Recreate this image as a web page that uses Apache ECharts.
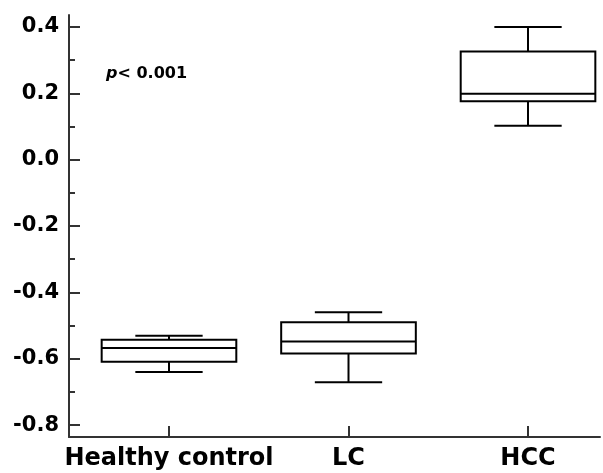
<!DOCTYPE html>
<html>
<head>
<meta charset="utf-8">
<script src="https://cdn.jsdelivr.net/npm/echarts@6/dist/echarts.min.js"></script>
<style>
  html, body { margin: 0; padding: 0; background: #fff; }
  #chart { width: 603px; height: 473px; }
</style>
</head>
<body>
<div id="chart"></div>
<script>
// groups on the x axis
const categories = ['Healthy control', 'LC', 'HCC']
const positions = [0, 1, 2]
// box values: min, Q1, median, Q3, max
const lowValues = [-0.640, -0.671, 0.102]
const q1Values = [-0.609, -0.584, 0.176]
const medianValues = [-0.568, -0.548, 0.199]
const q3Values = [-0.543, -0.490, 0.326]
const highValues = [-0.531, -0.460, 0.400]
// y ticks
const majorTicks = [-0.8, -0.6, -0.4, -0.2, 0.0, 0.2, 0.4]
const minorTicks = [-0.7, -0.5, -0.3, -0.1, 0.1, 0.3]

const boxData = positions.map((x, i) => [x, lowValues[i], q1Values[i], medianValues[i], q3Values[i], highValues[i]])

const axisGrey = '#333'
const labelFont = 'DejaVu Sans'
const boxWidth = 0.75 // in x units, caps are half of it

// box + whiskers, drawn through the axis scales
function renderBox(params, api) {
    const x = api.value(0)
    const half = api.size([boxWidth, 0])[0] / 2
    const cap = half / 2
    const low = api.coord([x, api.value(1)])
    const q1 = api.coord([x, api.value(2)])
    const med = api.coord([x, api.value(3)])
    const q3 = api.coord([x, api.value(4)])
    const high = api.coord([x, api.value(5)])
    const cx = low[0]
    const st = { stroke: '#000', lineWidth: 2, fill: null }
    const line = (x1, y1, x2, y2) => ({ type: 'line', shape: { x1, y1, x2, y2 }, style: st })
    return {
        type: 'group',
        children: [
            line(cx, high[1], cx, q3[1]),
            line(cx, q1[1], cx, low[1]),
            line(cx - cap, high[1], cx + cap, high[1]),
            line(cx - cap, low[1], cx + cap, low[1]),
            {
                type: 'rect',
                shape: { x: cx - half, y: q3[1], width: half * 2, height: q1[1] - q3[1] },
                style: { stroke: '#000', lineWidth: 2, fill: '#fff' }
            },
            line(cx - half, med[1], cx + half, med[1])
        ]
    }
}

const chart = echarts.init(document.getElementById('chart'))

chart.setOption({
    animation: false,
    grid: { left: 69, right: 3, top: 15, bottom: 36 },
    xAxis: {
        type: 'value',
        min: -0.557,
        max: 2.401,
        splitLine: { show: false },
        axisLine: { show: true, onZero: false, lineStyle: { color: axisGrey, width: 2 } },
        axisTick: {
            show: true,
            inside: true,
            length: 11,
            customValues: positions,
            lineStyle: { color: axisGrey, width: 2 }
        },
        axisLabel: {
            customValues: positions,
            formatter: v => categories[Math.round(v)],
            color: '#000',
            fontFamily: labelFont,
            fontWeight: 'bold',
            fontSize: 24,
            margin: 10
        }
    },
    yAxis: [{
        type: 'value',
        min: -0.836,
        max: 0.436,
        splitLine: { show: false },
        axisLine: { show: true, onZero: false, lineStyle: { color: axisGrey, width: 2 } },
        axisTick: {
            show: true,
            inside: true,
            length: 11,
            customValues: majorTicks,
            lineStyle: { color: axisGrey, width: 2 }
        },
        axisLabel: {
            customValues: majorTicks,
            formatter: v => v.toFixed(1),
            color: '#000',
            fontFamily: labelFont,
            fontWeight: 'bold',
            fontSize: 21,
            margin: 10
        }
    }, {
        // minor ticks only
        type: 'value',
        position: 'left',
        min: -0.836,
        max: 0.436,
        splitLine: { show: false },
        axisLine: { show: false, onZero: false },
        axisLabel: { show: false },
        axisTick: {
            show: true,
            inside: true,
            length: 6,
            customValues: minorTicks,
            lineStyle: { color: axisGrey, width: 2 }
        }
    }],
    graphic: [{
        type: 'text',
        left: 106,
        top: 66,
        style: {
            text: '{i|p}< 0.001',
            fill: '#000',
            font: 'bold 16px "DejaVu Sans"',
            rich: {
                i: { fontStyle: 'italic', fontWeight: 'bold', fontSize: 16, fontFamily: labelFont, fill: '#000' }
            }
        }
    }],
    series: [{
        type: 'custom',
        data: boxData,
        encode: { x: 0, y: [1, 2, 3, 4, 5] },
        renderItem: renderBox,
        silent: true
    }]
})
</script>
</body>
</html>
